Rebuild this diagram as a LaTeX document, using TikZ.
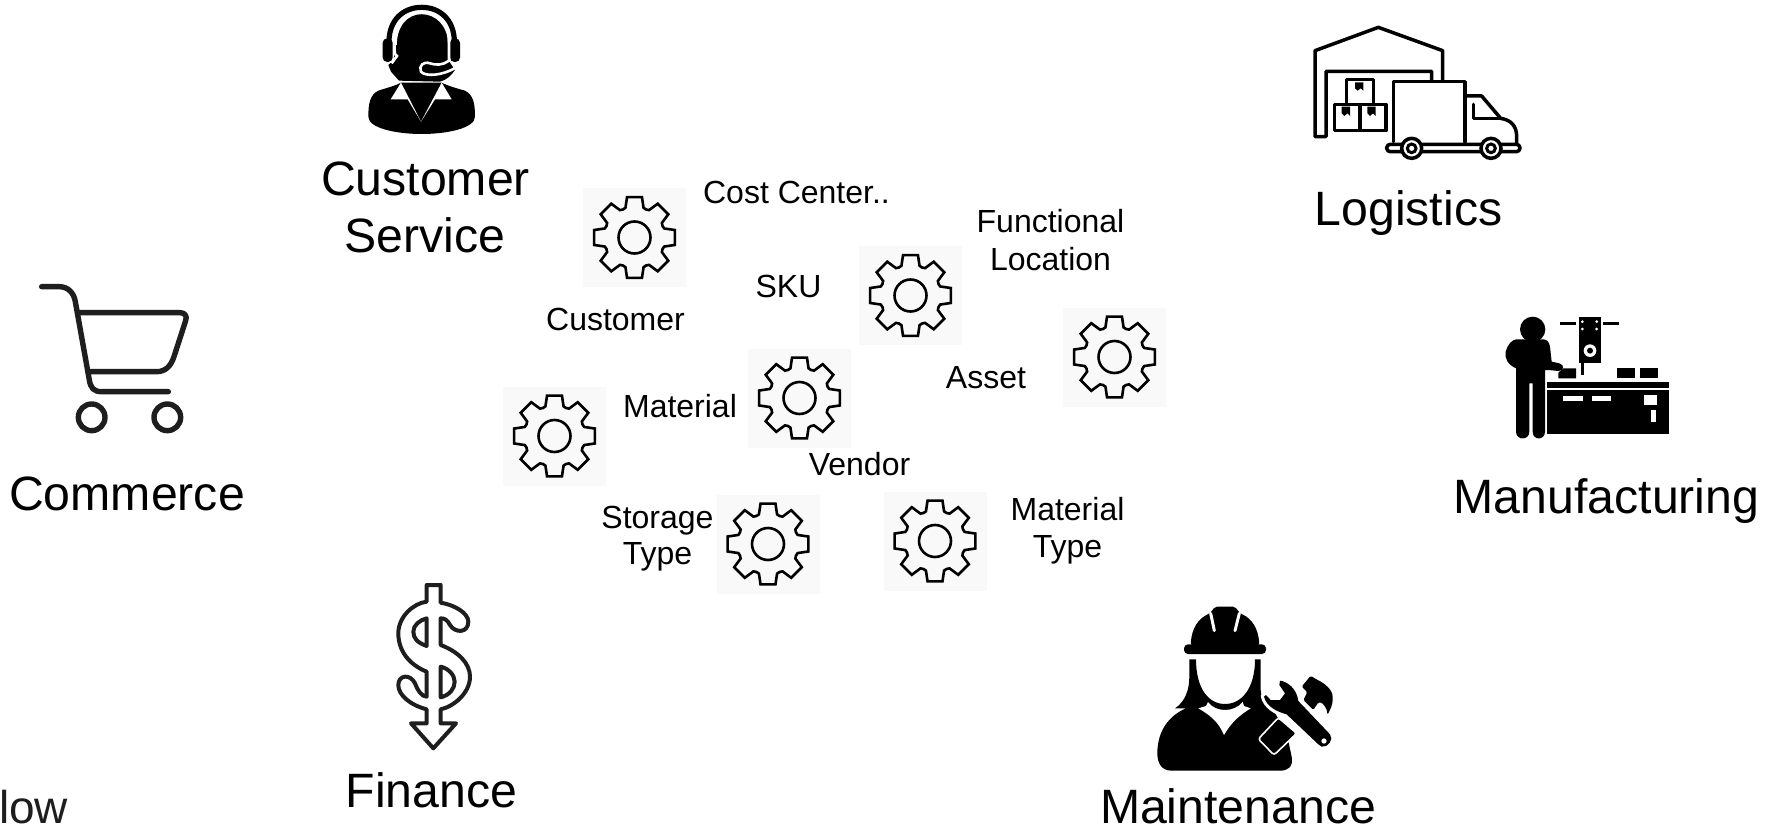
\documentclass[tikz,border=0pt]{standalone}
\usepackage{fontspec}
\setmainfont{Liberation Sans}
\definecolor{ink}{HTML}{1E1E1E}
\definecolor{gearbg}{HTML}{F9F9F9}
\tikzset{
  x=1pt,y=-1pt,
  big/.style={anchor=base,inner sep=0pt,align=center,font=\fontsize{48.2}{50}\selectfont},
  small/.style={anchor=base,inner sep=0pt,align=center,font=\fontsize{32}{33}\selectfont},
  gearbox/.style={rectangle,fill=gearbg,draw=none,minimum width=103pt,minimum height=99pt,inner sep=0pt},
  cogwheel/.pic={
    \draw[black,line width=2.6pt,line join=miter]
      (-10.5:41) \foreach \a in {0,45,...,315}{
        -- (\a-10.5:41) -- (\a+10.5:41) -- (\a+17:31) -- (\a+22.5:30.3) -- (\a+28:31)
      } -- cycle;
    \draw[black,line width=2.6pt] (0,0) circle[radius=16];
  },
  zoomA/.style={shift={(#1)},scale=0.33333},
}
\begin{document}
\begin{tikzpicture}
\useasboundingbox (0,0) rectangle (1773,827);
\fill[white] (0,0) rectangle (1773,827);

% gears
\node[gearbox] (g1) at (634.5,237.5) {}; \pic at (g1.center) {cogwheel};
\node[gearbox] (g2) at (910.5,295.5) {}; \pic at (g2.center) {cogwheel};
\node[gearbox] (g3) at (1114.5,357) {}; \pic at (g3.center) {cogwheel};
\node[gearbox] (g4) at (799.5,398) {}; \pic at (g4.center) {cogwheel};
\node[gearbox] (g5) at (554.5,436) {}; \pic at (g5.center) {cogwheel};
\node[gearbox] (g6) at (768,544) {}; \pic at (g6.center) {cogwheel};
\node[gearbox] (g7) at (935,541) {}; \pic at (g7.center) {cogwheel};

% small labels
\node[small] (lcost) at (796.5,203) {Cost Center..};
\node[small] (lfun1) at (1050.5,232) {Functional};
\node[small] (lfun2) at (1050.5,270) {Location};
\node[small] (lsku) at (788.5,297) {SKU};
\node[small] (lcust) at (615.5,330) {Customer};
\node[small] (lasset) at (986,388) {Asset};
\node[small] (lmat) at (680,417) {Material};
\node[small] (lvend) at (859.5,475) {Vendor};
\node[small] (lsto1) at (657.5,528) {Storage};
\node[small] (lsto2) at (657.5,564) {Type};
\node[small] (lmt1) at (1067.5,520) {Material};
\node[small] (lmt2) at (1067.5,557) {Type};

% big labels
\node[big] (tc1) at (425.5,195) {Customer};
\node[big] (tc2) at (425,252) {Service};
\node[big] (tl) at (1408.5,225) {Logistics};
\node[big] (tm) at (127,510) {Commerce};
\node[big] (tf) at (1606.5,513) {Manufacturing};
\node[big] (tma) at (1238,823) {Maintenance};
\node[big] (tfi) at (431.5,807) {Finance};
\node[anchor=base west,inner sep=0pt,text=ink,font=\fontsize{46}{48}\selectfont] (tlow) at (-1,823) {low};

% customer service icon
\begin{scope}[zoomA={320,0}]
  \fill[black] (145,350) .. controls (145,310) and (150,285) .. (175,272)
    .. controls (205,262) and (225,258) .. (243,248) -- (365,248)
    .. controls (385,258) and (410,265) .. (435,272)
    .. controls (460,285) and (465,310) .. (465,350)
    .. controls (465,385) and (380,402) .. (305,402)
    .. controls (230,402) and (145,385) .. (145,350) -- cycle;
  % head
  \fill[black] (222,140) .. controls (222,80) and (260,36) .. (305,36)
    .. controls (350,36) and (388,80) .. (388,140) -- (388,185)
    -- (405,210) .. controls (395,225) and (380,240) .. (360,245) -- (237,242)
    -- (213,215) -- (205,195) -- (222,180) -- cycle;
  % headband
  \draw[black,line width=5.2pt] (207,125) .. controls (207,60) and (250,22) .. (305,22)
    .. controls (360,22) and (403,60) .. (403,125);
  \draw[white,line width=3pt] (226,135) .. controls (226,75) and (260,38) .. (305,38)
    .. controls (350,38) and (388,75) .. (388,130);
  % ear pads
  \fill[black,rounded corners=4.5pt] (188,115) rectangle (218,186);
  \fill[black,rounded corners=4.5pt] (390,115) rectangle (420,186);
\end{scope}
\begin{scope}[zoomA={375,30}]
  \draw[white,line width=2.6pt] (62,20) .. controls (58,40) and (58,60) .. (60,72) -- (66,78) -- (50,100);
  \draw[white,line width=2.6pt] (222,20) -- (222,92)
     .. controls (205,106) and (180,106) .. (165,100)
     .. controls (145,93) and (130,108) .. (138,125)
     .. controls (150,140) and (200,138) .. (242,113);
\end{scope}
\begin{scope}[zoomA={320,0}]
  % lapels
  \fill[white] (243,248) -- (212,298) -- (263,298) -- (303,365) -- cycle;
  \fill[white] (365,248) -- (395,298) -- (345,298) -- (303,365) -- cycle;
\end{scope}

% logistics icon
\begin{scope}[zoomA={1290,10}]
  \begin{scope}[black,line width=3.5pt,line join=round,line cap=round]
    \draw (425,210) -- (425,184) -- (108,184) -- (108,380) -- (75,380) -- (75,122) -- (265,52) -- (458,122) -- (458,212);
    \draw (170,282) -- (170,208) -- (250,208) -- (250,282);
    \draw (133,283) rectangle (210,362);
    \draw (210,283) rectangle (288,362);
    \draw (310,395) -- (310,215) -- (525,215) -- (525,395);
    \draw (525,258) -- (575,258) -- (632,325) .. controls (665,330) and (680,350) .. (680,380) -- (680,400);
    \draw (550,283) -- (550,325) -- (630,325);
    \draw[fill=white,rounded corners=3.5pt] (290,403) rectangle (690,425);
  \end{scope}
  \fill[black] (195,217) -- (220,217) -- (220,242) -- (212,235) -- (203,242) -- (195,235) -- cycle;
  \fill[black] (155,290) -- (180,290) -- (180,318) -- (172,310) -- (163,318) -- (155,310) -- cycle;
  \fill[black] (232,290) -- (257,290) -- (257,318) -- (249,310) -- (240,318) -- (232,310) -- cycle;
  \draw[black,fill=white,line width=3.5pt] (365,415) circle[radius=30];
  \draw[black,fill=white,line width=3pt] (365,415) circle[radius=13];
  \draw[black,fill=white,line width=3.5pt] (603,415) circle[radius=30];
  \draw[black,fill=white,line width=3pt] (603,415) circle[radius=13];
\end{scope}

% commerce icon
\begin{scope}[zoomA={0,270}]
  \begin{scope}[ink,line width=5.4pt,line cap=round,line join=round]
    \draw (125,50) -- (178,50) .. controls (205,50) and (222,70) .. (226,95) -- (268,330)
      .. controls (272,355) and (282,365) .. (305,365) -- (505,365);
    \draw (235,128) -- (540,128) .. controls (555,128) and (562,138) .. (557,152) -- (522,260)
      .. controls (512,290) and (495,305) .. (470,305) -- (272,305);
    \draw (275,442) circle[radius=40];
    \draw (502,442) circle[radius=40];
  \end{scope}
\end{scope}

% manufacturing icon
\begin{scope}[zoomA={1440,300}]
  \fill[black] (278,88) circle[radius=38];
  \fill[black] (228,118) -- (310,118) .. controls (322,118) and (328,128) .. (330,140)
    -- (335,185) -- (358,190) .. controls (375,195) and (372,213) .. (355,213) -- (325,210)
    -- (315,210) -- (315,395) .. controls (315,422) and (278,422) .. (278,395) -- (278,250) -- (268,250)
    -- (268,395) .. controls (268,422) and (228,422) .. (228,395) -- (228,205)
    .. controls (205,195) and (192,175) .. (197,155) .. controls (202,135) and (215,120) .. (228,118) -- cycle;
  \fill[black] (322,245) rectangle (686,263);
  \fill[black] (322,271) rectangle (686,401);
  \fill[white] (368,288) rectangle (428,302);
  \fill[white] (455,288) rectangle (514,302);
  \fill[white] (612,285) rectangle (652,316);
  \fill[white] (632,330) rectangle (648,365);
  \fill[black] (370,205) -- (408,205) -- (408,235) -- (355,235) -- (355,218) -- cycle;
  \fill[black] (530,205) rectangle (584,235);
  \fill[black] (600,205) rectangle (653,235);
  \fill[black] (417,52) rectangle (482,190);
  \fill[black] (424,190) rectangle (433,225);
  \fill[black] (360,65) rectangle (408,75);
  \fill[black] (490,65) rectangle (537,75);
  \fill[white] (427,65) circle[radius=4.5] (470,65) circle[radius=4.5] (427,87) circle[radius=4.5] (470,87) circle[radius=4.5];
  \fill[white] (450,152) circle[radius=19];
  \fill[black] (450,152) circle[radius=9];
\end{scope}

% maintenance icon
\begin{scope}[zoomA={1140,590}]
  % helmet
  \fill[black,rounded corners=2pt] (152,165) .. controls (155,115) and (175,85) .. (210,70)
    -- (225,50) -- (285,50) -- (300,70)
    .. controls (335,85) and (355,115) .. (358,165) -- cycle;
  \fill[black,rounded corners=4pt] (132,163) rectangle (378,192);
  \draw[white,line width=3pt,line cap=round] (212,70) -- (223,122);
  \draw[white,line width=3pt,line cap=round] (298,70) -- (285,122);
  % hair and body
  \fill[black] (148,208) -- (168,208) .. controls (168,295) and (205,342) .. (255,342)
    .. controls (305,342) and (345,295) .. (345,208) -- (362,208) -- (362,300)
    .. controls (365,330) and (375,345) .. (395,352) -- (440,430) -- (455,500)
    .. controls (460,530) and (445,542) .. (420,542) -- (95,542)
    .. controls (65,542) and (52,520) .. (52,490)
    .. controls (52,420) and (90,375) .. (138,355) -- (105,355)
    .. controls (135,335) and (148,300) .. (148,260) -- cycle;
\end{scope}
\begin{scope}[zoomA={1180,680}]
  % collar
  \fill[white] (55,85) -- (78,78) -- (84,66) .. controls (95,82) and (115,90) .. (135,90)
    .. controls (155,90) and (175,82) .. (188,66) -- (192,78) -- (212,85)
    .. controls (180,105) and (155,125) .. (132,165)
    .. controls (115,125) and (90,105) .. (55,85) -- cycle;
\end{scope}
\begin{scope}[zoomA={1250,665}]
  % handle
  \fill[black,rounded corners=2.5pt,draw=white,line width=1.6pt] (85,158) -- (140,205) -- (72,270) -- (25,222) -- cycle;
  % white rim along the lower edge of the wrench
  \draw[white,line width=4pt,line cap=round] (38,93) .. controls (46,128) and (80,144) .. (108,152) -- (150,192);
  % wrench
  \fill[black] (90,47) .. controls (112,50) and (140,70) .. (145,108) -- (240,208)
    .. controls (252,222) and (235,248) .. (215,245) -- (205,238) -- (110,148)
    .. controls (80,140) and (50,125) .. (42,95) -- (48,90) -- (62,105) -- (90,105) -- (105,85) -- (88,60) -- cycle;
  \fill[white] (222,228) circle[radius=8];
  % hammer head
  \fill[black,rounded corners=1.5pt] (155,65) -- (182,32) -- (197,42) .. controls (225,55) and (248,75) .. (248,100)
    .. controls (248,120) and (240,135) .. (232,150)
    .. controls (232,130) and (218,112) .. (205,112) -- (190,135) -- (160,105) -- (172,82) -- cycle;
\end{scope}

% finance icon
\begin{scope}[zoomA={330,570}]
  \begin{scope}[ink,line width=4pt,line join=round]
    \draw (290,45) -- (332,45) -- (332,98) .. controls (375,105) and (415,130) .. (415,155)
      .. controls (415,190) and (375,190) .. (360,165) .. controls (352,150) and (345,145) .. (332,145)
      -- (332,225) .. controls (385,245) and (420,280) .. (420,320)
      .. controls (420,370) and (370,410) .. (332,418) -- (332,460) -- (378,460) -- (310,535) -- (243,460) -- (290,460)
      -- (290,418) .. controls (240,405) and (205,375) .. (205,345)
      .. controls (205,315) and (240,310) .. (255,340) .. controls (262,360) and (275,380) .. (290,380)
      -- (290,305) .. controls (240,285) and (205,245) .. (205,190)
      .. controls (205,140) and (250,100) .. (290,95) -- cycle;
    \draw (290,145) -- (290,228) .. controls (262,218) and (250,205) .. (250,185)
      .. controls (250,165) and (270,150) .. (290,145) -- cycle;
    \draw (332,290) -- (332,382) .. controls (360,375) and (374,355) .. (374,335)
      .. controls (374,315) and (355,295) .. (332,290) -- cycle;
  \end{scope}
\end{scope}
\end{tikzpicture}
\end{document}
